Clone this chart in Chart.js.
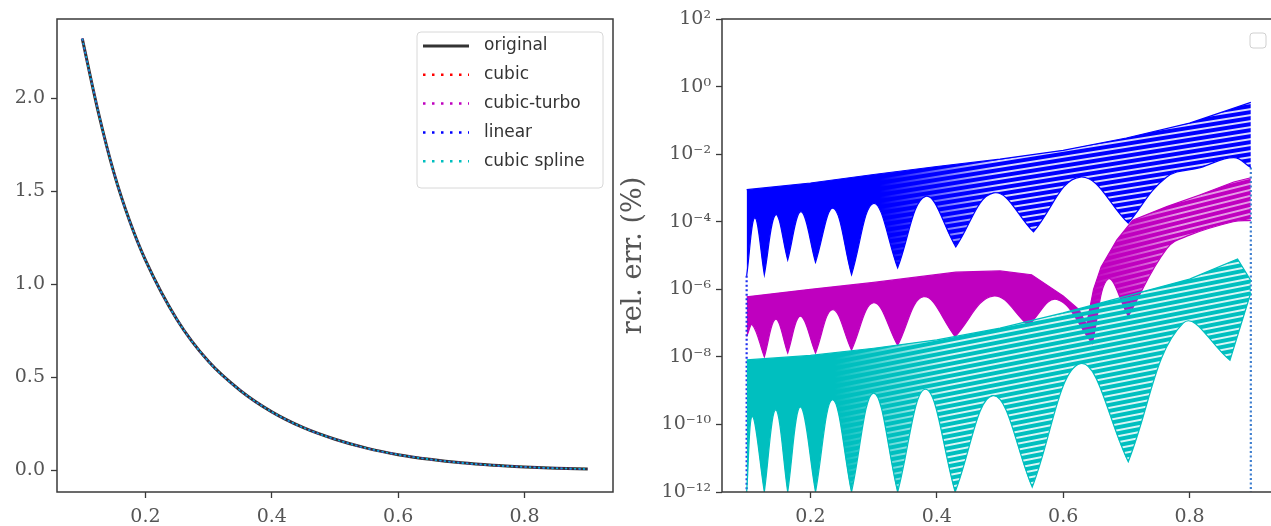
<!DOCTYPE html>
<html>
<head>
<meta charset="utf-8">
<script src="https://cdn.jsdelivr.net/npm/chart.js@4.4.0/dist/chart.umd.min.js"></script>
<style>
  html, body { margin: 0; padding: 0; background: #fff; overflow: hidden; }
  body { width: 1271px; height: 526px; position: relative; }
  #left { position: absolute; left: 0; top: 0; }
  #right { position: absolute; left: 620px; top: 0; }
</style>
</head>
<body>
<canvas id="left" width="620" height="526"></canvas>
<canvas id="right" width="680" height="526"></canvas>
<script>
// ---- left panel: the function and its interpolants (all on top of each other)
const fx = [0.10, 0.125, 0.15, 0.175, 0.20, 0.25, 0.30, 0.35, 0.40, 0.45, 0.50, 0.55, 0.60, 0.65, 0.70, 0.75, 0.80, 0.85, 0.90];
const fy = [2.32, 1.93, 1.60, 1.34, 1.13, 0.81, 0.585, 0.43, 0.315, 0.23, 0.168, 0.12, 0.085, 0.06, 0.041, 0.028, 0.019, 0.012, 0.008];
const seriesNames = ['original', 'cubic', 'cubic-turbo', 'linear', 'cubic spline'];
const seriesColors = ['#333333', '#ff0000', '#bf00bf', '#0000ff', '#00bfbf'];
const xTicks = [0.2, 0.4, 0.6, 0.8];
const fTicks = [0.0, 0.5, 1.0, 1.5, 2.0];

// ---- right panel: relative error bands (upper envelope / lower edge with the arches)
const linearTopX = [0.099, 0.2, 0.3, 0.4, 0.5, 0.6, 0.7, 0.8, 0.897];
const linearTop  = [8.9e-4, 1.4e-3, 2.5e-3, 4.3e-3, 7.1e-3, 1.3e-2, 3.0e-2, 8.3e-2, 0.34];
const linearLowX = [0.099, 0.112, 0.127, 0.145, 0.164, 0.185, 0.208, 0.236, 0.265, 0.300, 0.338, 0.382, 0.430, 0.490, 0.553, 0.627, 0.703, 0.764, 0.817, 0.870, 0.897];
const linearLow  = [2.5e-6, 1.3e-4, 2.7e-6, 1.6e-4, 7.4e-6, 2.0e-4, 6.3e-6, 2.5e-4, 2.7e-6, 3.5e-4, 4.3e-6, 5.6e-4, 1.8e-5, 7.1e-4, 5.0e-5, 2.1e-3, 9.1e-5, 2.1e-3, 4.0e-3, 7.9e-3, 4.0e-3];

const turboTopX = [0.099, 0.2, 0.3, 0.43, 0.5, 0.55, 0.6, 0.625, 0.637, 0.648, 0.66, 0.685, 0.71, 0.764, 0.817, 0.87, 0.897];
const turboTop  = [6.0e-7, 1.0e-6, 1.6e-6, 3.2e-6, 3.5e-6, 2.7e-6, 6.3e-7, 2.5e-7, 8.9e-8, 1.0e-6, 4.6e-6, 2.9e-5, 1.1e-4, 2.8e-4, 6.3e-4, 1.5e-3, 2.0e-3];
const turboLowX = [0.099, 0.108, 0.127, 0.145, 0.164, 0.184, 0.208, 0.235, 0.265, 0.300, 0.338, 0.379, 0.429, 0.489, 0.545, 0.590, 0.646, 0.671, 0.703, 0.764, 0.8, 0.869, 0.897];
const turboLow  = [4.0e-8, 8.9e-8, 1.0e-8, 1.3e-7, 1.3e-8, 1.6e-7, 1.3e-8, 2.5e-7, 1.6e-8, 4.0e-7, 2.2e-8, 6.0e-7, 4.0e-8, 6.3e-7, 8.5e-8, 5.0e-7, 2.5e-8, 2.0e-6, 1.6e-7, 1.6e-5, 4.0e-5, 1.0e-4, 1.1e-4];

const splineTopX = [0.099, 0.2, 0.3, 0.4, 0.5, 0.6, 0.7, 0.8, 0.876, 0.897];
const splineTop  = [8.1e-9, 1.1e-8, 1.8e-8, 3.2e-8, 7.1e-8, 2.0e-7, 6.3e-7, 2.0e-6, 7.9e-6, 1.8e-6];
const splineLowX = [0.099, 0.108, 0.127, 0.145, 0.164, 0.184, 0.208, 0.235, 0.265, 0.300, 0.338, 0.382, 0.429, 0.489, 0.551, 0.627, 0.703, 0.79, 0.864, 0.897];
const splineLow  = [1e-12, 1.7e-10, 1e-12, 2.7e-10, 1e-12, 3.3e-10, 1e-12, 5.4e-10, 1e-12, 8.5e-10, 1e-12, 1.1e-9, 1e-12, 7.1e-10, 1.4e-12, 6.3e-9, 7.9e-12, 1.0e-7, 7.9e-9, 7.9e-7];

// dotted tails that run down to the bottom of the axes
const tailX = [0.099, 0.897];
const tailTop = [2.5e-6, 4.0e-3];
const errTicks = [1e-12, 1e-10, 1e-8, 1e-6, 1e-4, 1e-2, 1, 1e2];
const errTickLabels = ['10⁻¹²', '10⁻¹⁰', '10⁻⁸', '10⁻⁶', '10⁻⁴', '10⁻²', '10⁰', '10²'];

const serif = 'DejaVu Serif';
const tickColor = '#555';
const spine = '#3a3a3a';

function pts(xs, ys) { return xs.map((x, i) => ({ x: x, y: ys[i] })); }
// lower edge: repeat each cusp so the spline stays sharp there
function arches(xs, ys) {
  const out = [];
  xs.forEach((x, i) => {
    out.push({ x: x, y: ys[i] });
    if (i > 0 && i < ys.length - 1 && ys[i] < ys[i - 1] && ys[i] < ys[i + 1]) out.push({ x: x, y: ys[i] });
  });
  return out;
}

const frame = {
  id: 'frame',
  afterDatasetsDraw(chart) {
    const a = chart.chartArea, ctx = chart.ctx;
    ctx.save();
    ctx.strokeStyle = spine;
    ctx.lineWidth = 1.5;
    ctx.strokeRect(a.left, a.top, a.right - a.left, a.bottom - a.top);
    ctx.restore();
  }
};

function roundRect(ctx, x, y, w, h, r) {
  ctx.beginPath();
  ctx.moveTo(x + r, y);
  ctx.arcTo(x + w, y, x + w, y + h, r);
  ctx.arcTo(x + w, y + h, x, y + h, r);
  ctx.arcTo(x, y + h, x, y, r);
  ctx.arcTo(x, y, x + w, y, r);
  ctx.closePath();
}

const legendBox = {
  id: 'legendBox',
  afterDraw(chart) {
    const ctx = chart.ctx;
    ctx.save();
    roundRect(ctx, 417, 32, 186, 156, 4);
    ctx.fillStyle = 'rgba(255,255,255,0.85)';
    ctx.fill();
    ctx.strokeStyle = '#d8d8d8';
    ctx.lineWidth = 1;
    ctx.stroke();
    chart.data.datasets.forEach((ds, i) => {
      const y = 46 + i * 28.8;
      ctx.beginPath();
      ctx.setLineDash(i === 0 ? [] : [2.5, 6.5]);
      ctx.strokeStyle = ds.borderColor;
      ctx.lineWidth = i === 0 ? 3 : 2.5;
      ctx.moveTo(423, y);
      ctx.lineTo(469, y);
      ctx.stroke();
      ctx.setLineDash([]);
      ctx.fillStyle = '#333';
      ctx.font = '17px "DejaVu Sans"';
      ctx.textBaseline = 'middle';
      ctx.fillText(ds.label, 484, y);
    });
    ctx.restore();
  }
};

const emptyLegend = {
  id: 'emptyLegend',
  afterDraw(chart) {
    const ctx = chart.ctx;
    ctx.save();
    roundRect(ctx, 630, 33, 16, 15, 3);
    ctx.strokeStyle = '#d0d0d0';
    ctx.lineWidth = 1;
    ctx.stroke();
    ctx.restore();
  }
};

function xScale() {
  return {
    type: 'linear', min: 0.06, max: 0.94,
    afterBuildTicks: a => { a.ticks = xTicks.map(v => ({ value: v })); },
    afterFit: a => { a.height = 34; },
    grid: { drawOnChartArea: false, tickLength: 6, tickColor: spine, tickWidth: 1.3 },
    border: { display: false },
    ticks: { color: tickColor, font: { family: serif, size: 19 }, padding: 8, maxRotation: 0,
             callback: v => v.toFixed(1) }
  };
}

// ---------- left chart
new Chart(document.getElementById('left'), {
  type: 'scatter',
  data: {
    datasets: seriesNames.map((name, i) => ({
      label: name,
      data: pts(fx, fy),
      showLine: true,
      borderColor: seriesColors[i],
      borderWidth: i === 0 ? 3 : 1.6,
      borderDash: i === 0 ? [] : [2, 2.5],
      pointRadius: 0,
      cubicInterpolationMode: 'monotone',
      fill: false,
      order: 5 - i
    }))
  },
  options: {
    responsive: false,
    animation: false,
    layout: { padding: { top: 19, right: 7, left: 0, bottom: 0 } },
    plugins: { legend: { display: false }, tooltip: { enabled: false } },
    scales: {
      x: xScale(),
      y: {
        type: 'linear', min: -0.1155, max: 2.4255,
        afterBuildTicks: a => { a.ticks = fTicks.map(v => ({ value: v })); },
        afterFit: a => { a.width = 57; },
        grid: { drawOnChartArea: false, tickLength: 6, tickColor: spine, tickWidth: 1.3 },
        border: { display: false },
        ticks: { color: tickColor, font: { family: serif, size: 19 }, padding: 6,
                 callback: v => v.toFixed(1) }
      }
    }
  },
  plugins: [frame, legendBox]
});

// ---------- right chart
const rightCtx = document.getElementById('right').getContext('2d');
// dense on the left, tilted rows of dots further right, like the sampled curves
function texture(rgb, from, to, gapAlpha, tilt) {
  const c = document.createElement('canvas');
  c.width = 1400; c.height = 6;
  const g = c.getContext('2d');
  g.fillStyle = 'rgb(' + rgb + ')';
  g.fillRect(0, 0, 1400, 4);
  const grad = g.createLinearGradient(from, 0, to, 0);
  grad.addColorStop(0, 'rgba(' + rgb + ',1)');
  grad.addColorStop(1, 'rgba(' + rgb + ',' + gapAlpha + ')');
  g.fillStyle = grad;
  g.fillRect(0, 4, 1400, 2);
  const p = rightCtx.createPattern(c, 'repeat');
  p.setTransform(new DOMMatrix().skewY(tilt));
  return p;
}

const bands = [
  { top: pts(turboTopX, turboTop), low: arches(turboLowX, turboLow), rgb: '191,0,191',
    fill: texture('191,0,191', 470, 560, 0.4, -14), order: 3 },
  { top: pts(linearTopX, linearTop), low: arches(linearLowX, linearLow), rgb: '0,0,255',
    fill: texture('0,0,255', 260, 380, 0.15, -9), order: 2 },
  { top: pts(splineTopX, splineTop), low: arches(splineLowX, splineLow), rgb: '0,191,191',
    fill: texture('0,191,191', 215, 330, 0.15, -11), order: 1 }
];

const errSets = [];
bands.forEach(b => {
  const topIndex = errSets.length;
  errSets.push({
    data: b.top, showLine: true, pointRadius: 0, tension: 0,
    borderColor: 'rgb(' + b.rgb + ')', borderWidth: 1.2, fill: false, order: b.order
  });
  errSets.push({
    data: b.low, showLine: true, pointRadius: 0, tension: 0.4,
    borderColor: 'rgb(' + b.rgb + ')', borderWidth: 1.2,
    fill: { target: topIndex }, backgroundColor: b.fill, order: b.order
  });
});
tailX.forEach((x, i) => {
  errSets.push({
    data: [{ x: x, y: tailTop[i] }, { x: x, y: 1e-12 }], showLine: true, pointRadius: 0,
    borderColor: i === 0 ? '#1f2ff0' : '#3f7fcf', borderWidth: 2.2, borderDash: [2, 2.5],
    fill: false, order: 2
  });
});

new Chart(rightCtx, {
  type: 'scatter',
  data: { datasets: errSets },
  options: {
    responsive: false,
    animation: false,
    layout: { padding: { top: 19, right: 22, left: 0, bottom: 0 } },
    plugins: { legend: { display: false }, tooltip: { enabled: false } },
    scales: {
      x: xScale(),
      y: {
        type: 'logarithmic', min: 1e-12, max: 1e2,
        afterBuildTicks: a => { a.ticks = errTicks.map(v => ({ value: v })); },
        afterFit: a => { a.width = 102; },
        grid: { drawOnChartArea: false, tickLength: 6, tickColor: spine, tickWidth: 1.3 },
        border: { display: false },
        title: { display: true, text: 'rel. err. (%)', color: tickColor,
                 font: { family: serif, size: 27, lineHeight: 1 }, padding: { top: 0, bottom: 0 } },
        ticks: { color: tickColor, font: { family: serif, size: 19 }, padding: 5,
                 callback: (v, i) => errTickLabels[i] }
      }
    }
  },
  plugins: [frame, emptyLegend]
});
</script>
</body>
</html>
